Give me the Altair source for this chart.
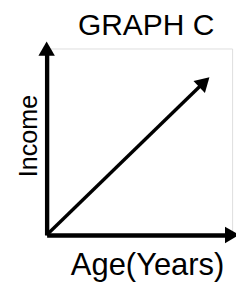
import altair as alt
import pandas as pd

title_text = "GRAPH C"
x_label = "Age(Years)"
y_label = "Income"
x_domain = [0, 10]
y_domain = [0, 10]
line_x = [0, 8.5]
line_y = [0, 8.2]

line_df = pd.DataFrame({"x": line_x, "y": line_y})
head_df = pd.DataFrame({"x": [line_x[-1]], "y": [line_y[-1]]})
yend_df = pd.DataFrame({"x": [x_domain[0]], "y": [y_domain[1]]})
xend_df = pd.DataFrame({"x": [x_domain[1]], "y": [y_domain[0]]})
title_df = pd.DataFrame({"t": [title_text]})

FONT = "Liberation Sans"
xs = alt.Scale(domain=x_domain, nice=False, zero=False)
ys = alt.Scale(domain=y_domain, nice=False, zero=False)

xax = alt.Axis(domain=True, domainColor="black", domainWidth=4.5, ticks=False,
               labels=False, grid=False, title=x_label, titleFont=FONT,
               titleFontSize=32, titleFontWeight="normal", titleColor="black",
               titleX=104, titleY=41, titleBaseline="alphabetic", titleAlign="center")
yax = alt.Axis(domain=True, domainColor="black", domainWidth=4.5, ticks=False,
               labels=False, grid=False, title=y_label, titleFont=FONT,
               titleFontSize=26, titleFontWeight="normal", titleColor="black",
               titleX=-11, titleY=90, titleAngle=270, titleBaseline="alphabetic",
               titleAlign="center")

def enc(ch):
    return ch.encode(x=alt.X("x:Q", scale=xs, axis=xax), y=alt.Y("y:Q", scale=ys, axis=yax))

line = enc(alt.Chart(line_df).mark_line(color="black", strokeWidth=3.5))
head = enc(alt.Chart(head_df).mark_point(shape="triangle-up", size=289, filled=True,
                                         color="black", opacity=1, angle=46, strokeWidth=0))
yhead = enc(alt.Chart(yend_df).mark_point(shape="triangle-up", size=289, filled=True,
                                          color="black", opacity=1, strokeWidth=0))
xhead = enc(alt.Chart(xend_df).mark_point(shape="triangle-right", size=289, filled=True,
                                          color="black", opacity=1, strokeWidth=0))
title = alt.Chart(title_df).mark_text(font=FONT, fontSize=31, color="black",
                                      align="center", baseline="alphabetic").encode(
    text="t:N", x=alt.value(103), y=alt.value(-14.5))

chart = alt.layer(line, head, yhead, xhead, title).properties(
    width=192, height=193,
    padding={"left": 40, "top": 37, "right": 4, "bottom": 52},
    autosize=alt.AutoSizeParams(type="none"),
).configure_view(stroke=None).configure(background="white")

chart.save("out.html", embed_options={"renderer": "svg", "actions": False})
